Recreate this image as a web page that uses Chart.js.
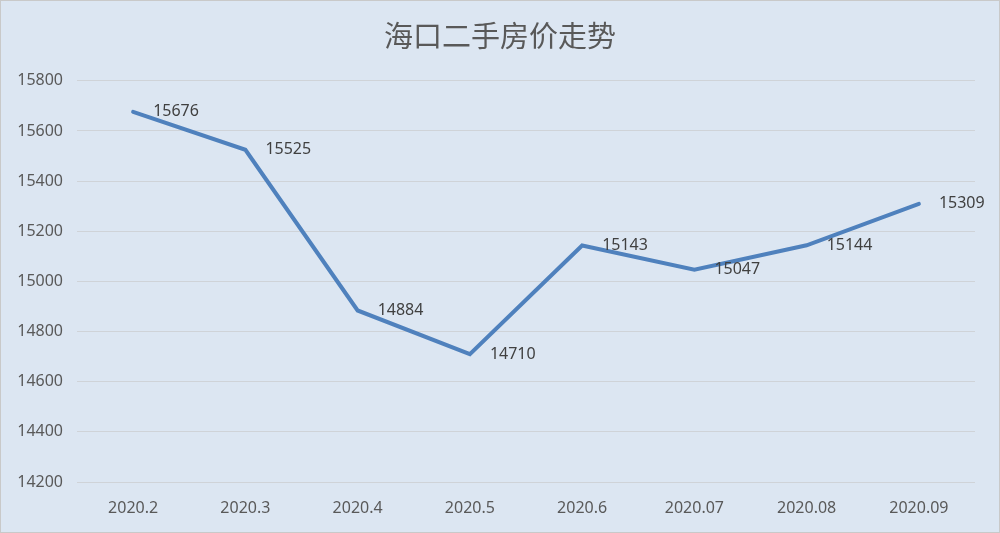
<!DOCTYPE html>
<html>
<head>
<meta charset="utf-8">
<script src="https://cdn.jsdelivr.net/npm/chart.js@4/dist/chart.umd.min.js"></script>
<style>
  html, body { margin: 0; padding: 0; background: #dce6f2; }
  #wrap { width: 1000px; height: 533px; position: relative; }
</style>
</head>
<body>
<div id="wrap"><canvas id="chart"></canvas></div>
<script>
// chart data
const months = ['2020.2', '2020.3', '2020.4', '2020.5', '2020.6', '2020.07', '2020.08', '2020.09'];
const prices = [15676, 15525, 14884, 14710, 15143, 15047, 15144, 15309];
const yTicks = [14200, 14400, 14600, 14800, 15000, 15200, 15400, 15600, 15800];

const textColor = '#595959';
const tickFont = { family: "'Noto Sans', sans-serif", size: 16 };

// background + frame
const frame = {
  id: 'frame',
  beforeDraw(chart) {
    const c = chart.ctx;
    c.save();
    c.fillStyle = '#dce6f2';
    c.fillRect(0, 0, chart.width, chart.height);
    c.strokeStyle = '#c9c9c9';
    c.lineWidth = 1;
    c.strokeRect(0.5, 0.5, chart.width - 1, chart.height - 1);
    c.restore();
  }
};

// value labels to the right of each point
const valueLabels = {
  id: 'valueLabels',
  afterDatasetsDraw(chart) {
    const c = chart.ctx;
    const meta = chart.getDatasetMeta(0);
    c.save();
    c.font = "16px 'Noto Sans', sans-serif";
    c.fillStyle = '#404040';
    c.textAlign = 'left';
    c.textBaseline = 'middle';
    meta.data.forEach((pt, i) => {
      c.fillText(String(prices[i]), pt.x + 20, pt.y);
    });
    c.restore();
  }
};

new Chart(document.getElementById('chart'), {
  type: 'line',
  data: {
    labels: months,
    datasets: [{
      data: prices,
      borderColor: '#4f81bd',
      borderWidth: 4,
      pointRadius: 0,
      tension: 0,
      borderCapStyle: 'round',
      borderJoinStyle: 'miter'
    }]
  },
  options: {
    responsive: true,
    maintainAspectRatio: false,
    animation: false,
    layout: { padding: { top: 0, right: 12.5, bottom: 0, left: 12.5 } },
    plugins: {
      legend: { display: false },
      tooltip: { enabled: false },
      title: {
        display: true,
        text: '海口二手房价走势',
        color: textColor,
        font: { family: "'Noto Sans CJK SC', sans-serif", size: 29, weight: 'normal' },
        padding: { top: 19, bottom: 27 }
      }
    },
    scales: {
      x: {
        offset: true,
        grid: { display: false, drawTicks: false },
        border: { display: false },
        ticks: { color: textColor, font: tickFont, padding: 17, maxRotation: 0 },
        afterFit(scale) { scale.height = 51; }
      },
      y: {
        min: 14200,
        max: 15800,
        afterBuildTicks(scale) { scale.ticks = yTicks.map(v => ({ value: v })); },
        grid: { color: '#cfd3d8', lineWidth: 1, drawTicks: false },
        border: { display: false },
        ticks: { color: textColor, font: tickFont, padding: 14, callback: v => String(v) },
        afterFit(scale) { scale.width = 64.5; }
      },
      // empty right-hand spacer so the plot stops short of the frame
      yRight: {
        position: 'right',
        min: 14200,
        max: 15800,
        grid: { display: false },
        border: { display: false },
        ticks: { display: false },
        afterFit(scale) { scale.width = 12.5; }
      }
    }
  },
  plugins: [frame, valueLabels]
});
</script>
</body>
</html>
